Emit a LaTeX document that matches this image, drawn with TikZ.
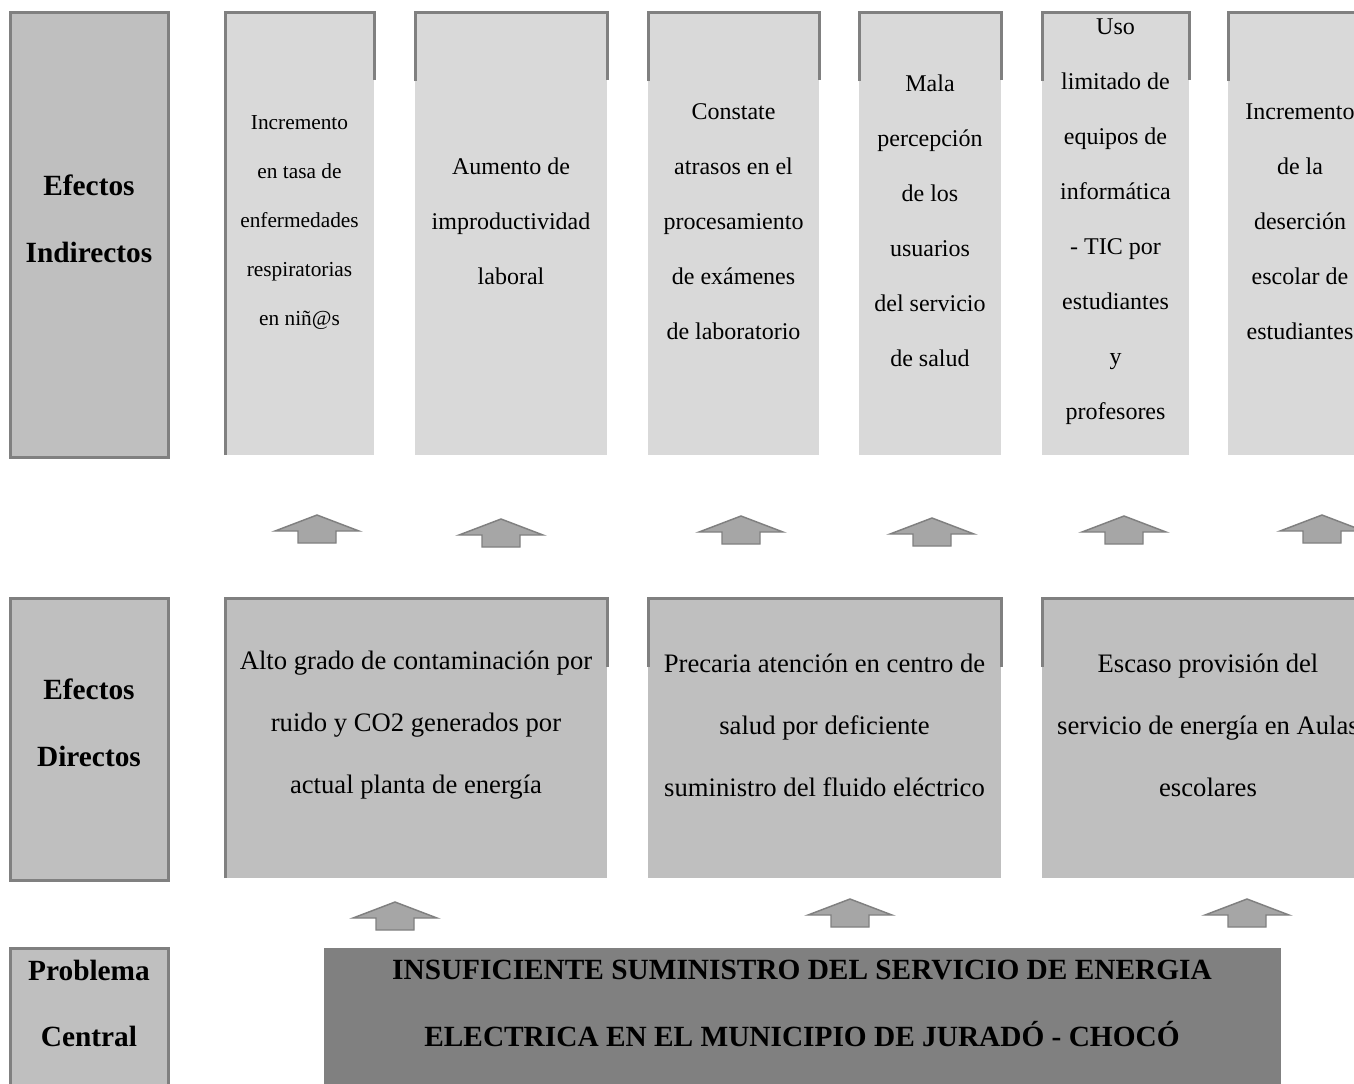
\documentclass[tikz,border=0pt]{standalone}
\usepackage{fontspec}
\setmainfont{Liberation Serif}
\usetikzlibrary{fit}
\definecolor{bordc}{HTML}{808080}
\definecolor{litec}{HTML}{D9D9D9}
\definecolor{midc}{HTML}{BFBFBF}
\definecolor{darkc}{HTML}{808080}
\definecolor{arrfill}{HTML}{A6A6A6}
\tikzset{
  cell/.style={inner sep=0pt, outer sep=0pt, draw=none},
  topcell/.style={cell, fill=litec},
  midcell/.style={cell, fill=midc},
  darkcell/.style={cell, fill=darkc},
  labcell/.style={cell, fill=midc, draw=bordc, line width=2.25pt},
  bd/.style={draw=bordc, line width=2.25pt},
  arr/.style={fill=arrfill, draw=bordc, line width=1.1pt, line join=miter},
  upblock/.pic={\path[arr] (0,0) -- (42,16) -- (19,16) -- (19,28) -- (-19,28) -- (-19,16) -- (-42,16) -- cycle;},
  labtxt/.style={align=center, inner sep=0pt, font=\fontsize{22}{50}\selectfont\bfseries},
  toptxt/.style={align=center, inner sep=0pt, font=\fontsize{18}{41.25}\selectfont},
  smalltxt/.style={align=center, inner sep=0pt, font=\fontsize{16}{36.75}\selectfont},
  midtxt/.style={align=center, inner sep=0pt, font=\fontsize{20}{46.5}\selectfont},
}
\begin{document}
\begin{tikzpicture}[x=0.75pt, y=-0.75pt]
\useasboundingbox[fill=white] (0,0) rectangle (1354,1083);

% left label boxes
\node[labcell, fit={(10,12) (168,457)}] (lab1) {};
\node[labcell, fit={(10,598) (168,880)}] (lab2) {};
\node[labcell, fit={(10,948) (168,1095)}] (lab3) {};
\node[labtxt] (lt1) at (89,218.5) {Efectos\\Indirectos};
\node[labtxt] (lt2) at (89,723) {Efectos\\Directos};
\node[labtxt] (lt3) at (89,1003.5) {Problema\\Central};

% top row boxes
\node[topcell, fit={(225,12) (374,455)}] (b1) {};
\node[topcell, fit={(415,12) (607,455)}] (b2) {};
\node[topcell, fit={(648,12) (819,455)}] (b3) {};
\node[topcell, fit={(859,12) (1001,455)}] (b4) {};
\node[topcell, fit={(1042,12) (1189,455)}] (b5) {};
\node[topcell, fit={(1228,12) (1375,455)}] (b6) {};
\draw[bd] (b1.south west) |- (b1.north east) -- ++(0,68);
\foreach \n in {b2,b3,b4,b5,b6}{
  \draw[bd] (\n.north west) ++(0,69) |- (\n.north east) -- ++(0,68);
}

% top row texts
\node[smalltxt] (t1) at (299.5,223) {Incremento\\en tasa de\\enfermedades\\respiratorias\\en niñ@s};
\node[toptxt] (t2) at (511,221.5) {Aumento de\\improductividad\\laboral};
\node[toptxt] (t3) at (733.5,221.5) {Constate\\atrasos en el\\procesamiento\\de exámenes\\de laboratorio};
\node[toptxt] (t4) at (930,221) {Mala\\percepción\\de los\\usuarios\\del servicio\\de salud};
\node[toptxt] (t5) at (1115.5,221.5) {Uso\\limitado de\\equipos de\\informática\\- TIC por\\estudiantes\\y\\profesores};
\node[toptxt] (t6) at (1300,221.5) {Incremento\\de la\\deserción\\escolar de\\estudiantes};

% arrows row 1
\pic at (317,515) {upblock};
\pic at (501,519) {upblock};
\pic at (741,516) {upblock};
\pic at (932,518) {upblock};
\pic at (1124,516) {upblock};
\pic at (1322,515) {upblock};

% middle row boxes
\node[midcell, fit={(225,598) (607,878)}] (m1) {};
\node[midcell, fit={(648,598) (1001,878)}] (m2) {};
\node[midcell, fit={(1042,598) (1375,878)}] (m3) {};
\draw[bd] (m1.south west) |- (m1.north east) -- ++(0,69);
\draw[bd] (m2.north west) ++(0,69) |- (m2.north east) -- ++(0,69);
\draw[bd] (m3.north west) ++(0,69) |- (m3.north east) -- ++(0,69);
\node[midtxt] (mt1) at (416,725) {Alto grado de contaminación por\\ruido y CO2 generados por\\actual planta de energía};
\node[midtxt] (mt2) at (824.5,725) {Precaria atención en centro de\\salud por deficiente\\suministro del fluido eléctrico};
\node[midtxt] (mt3) at (1208,725) {Escaso provisión del\\servicio de energía en Aulas\\escolares};

% arrows row 2
\pic at (395,902) {upblock};
\pic at (850,899) {upblock};
\pic at (1247,899) {upblock};

% central problem
\node[darkcell, fit={(324,948) (1281,1095)}] (cp) {};
\node[labtxt] (cpt) at (802,1003.5) {INSUFICIENTE SUMINISTRO DEL SERVICIO DE ENERGIA\\ELECTRICA EN EL MUNICIPIO DE JURADÓ - CHOCÓ};
\end{tikzpicture}
\end{document}
